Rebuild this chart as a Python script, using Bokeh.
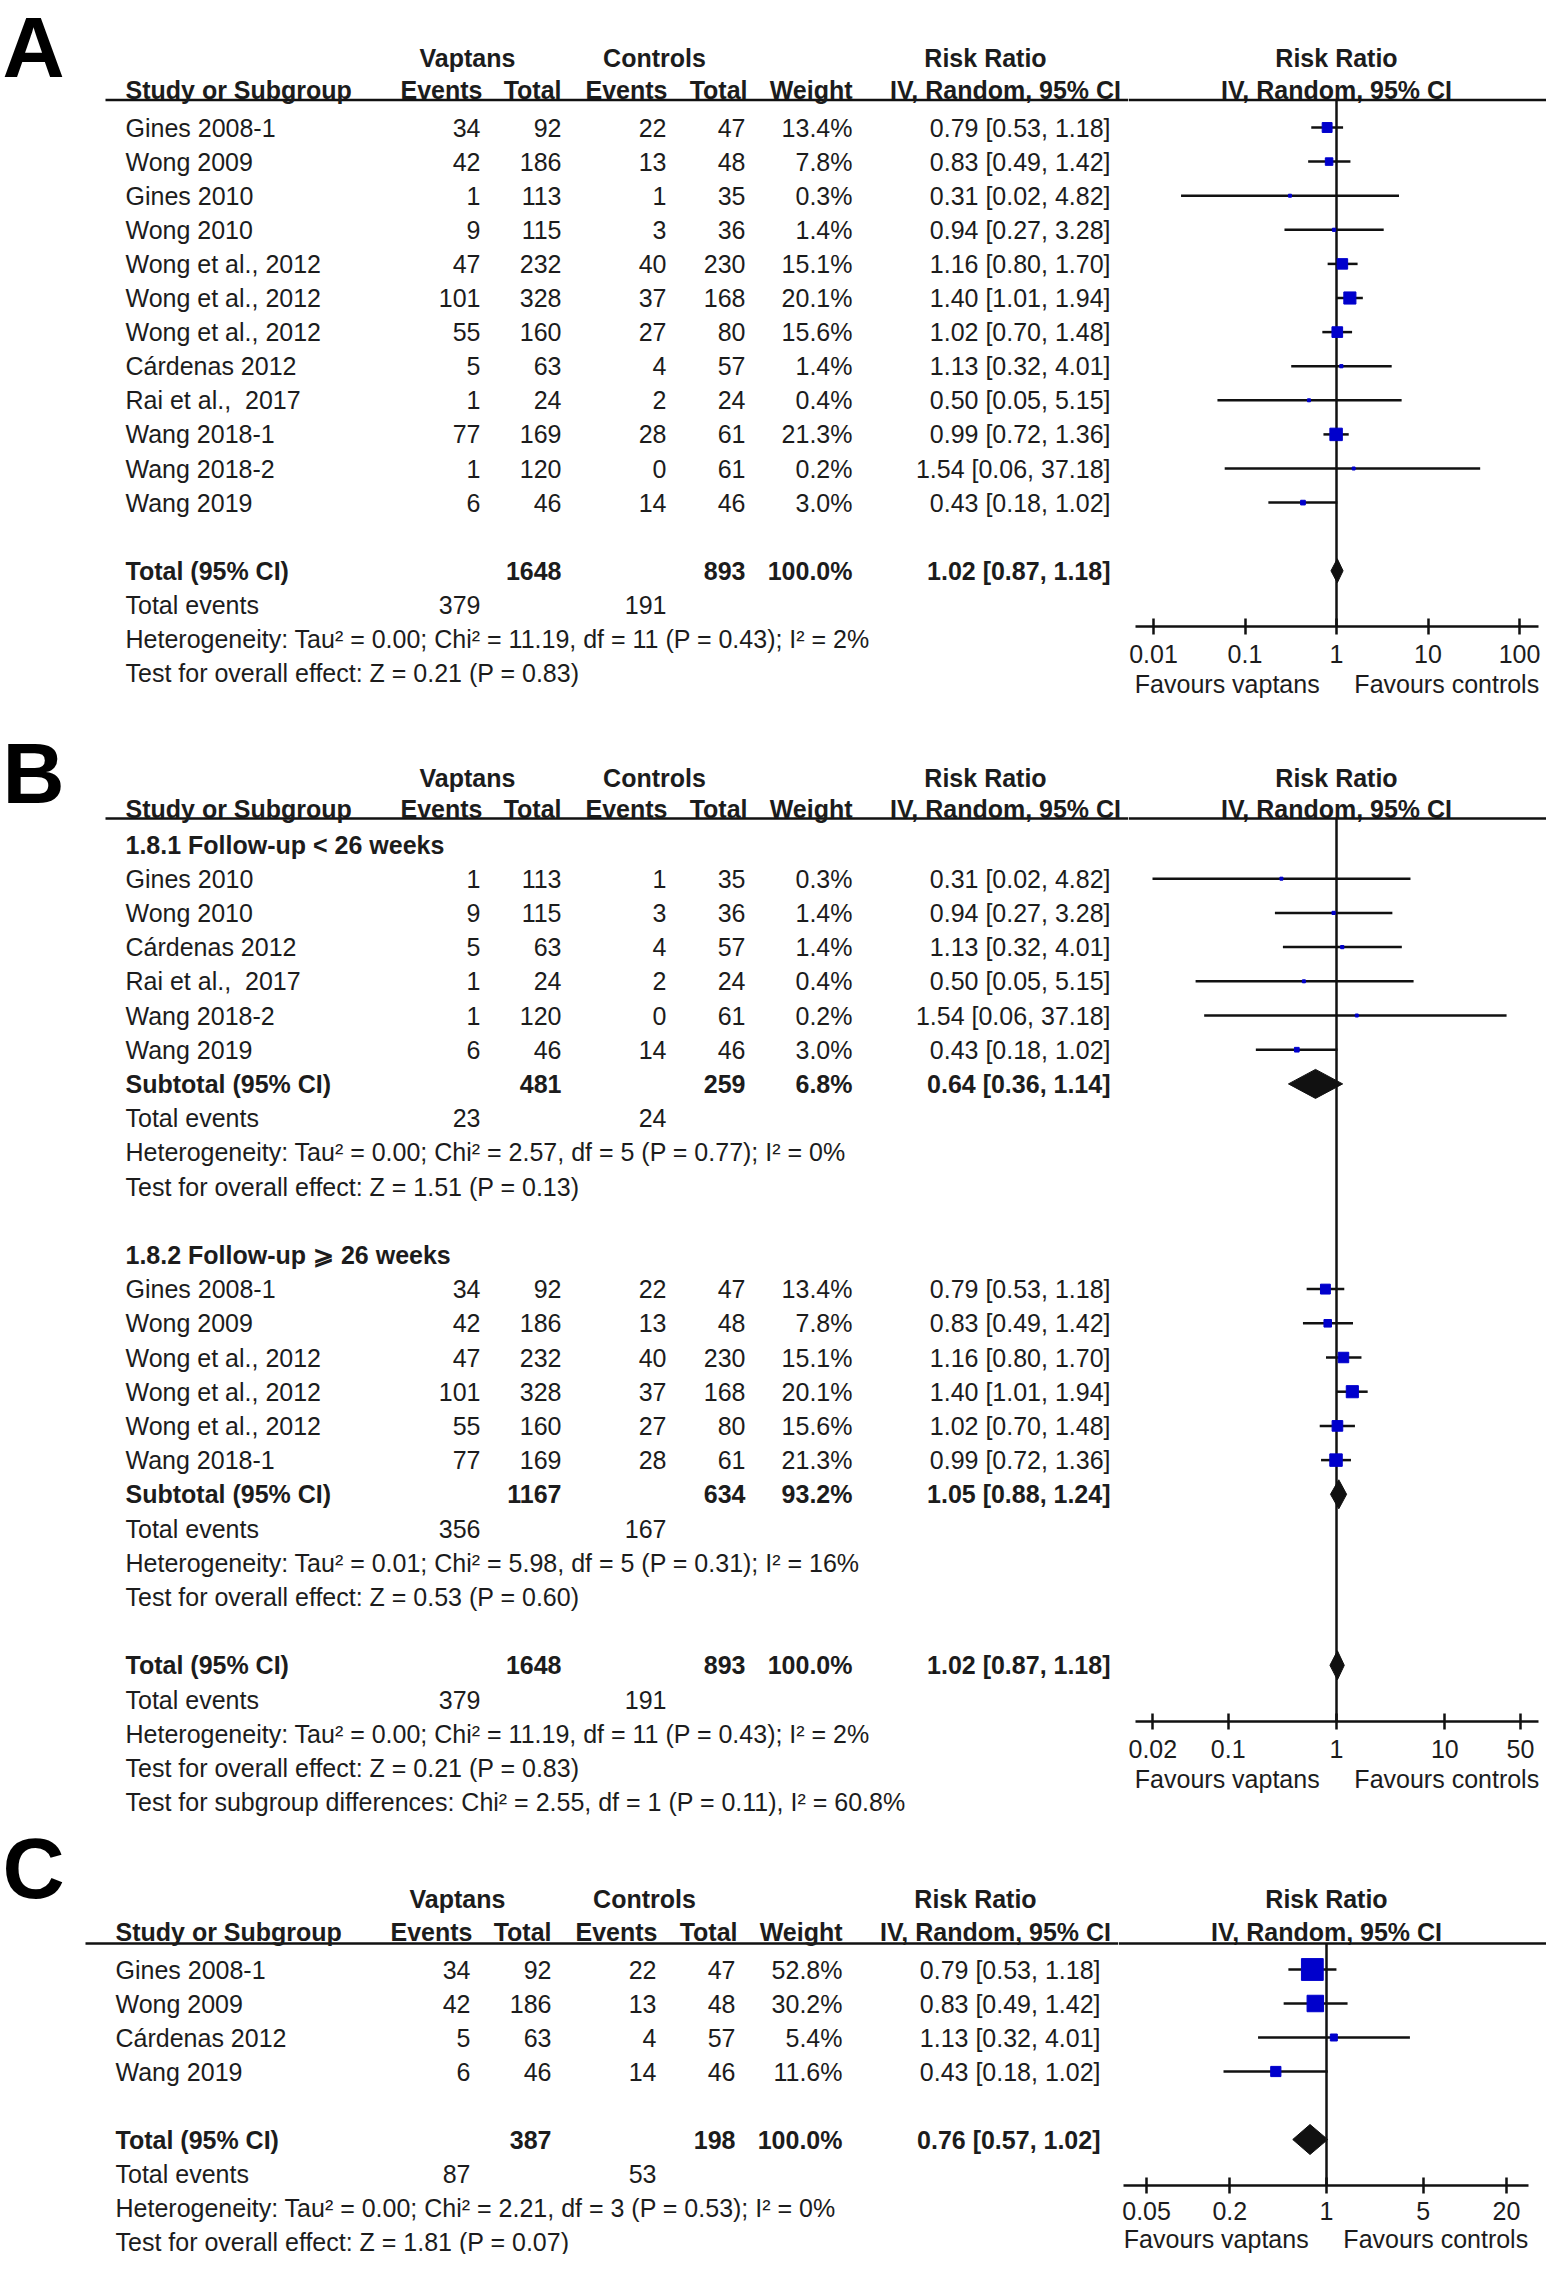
import math
from bokeh.plotting import figure
from bokeh.models import Range1d, ColumnDataSource, LogAxis, FixedTicker, CustomJSTickFormatter, Span
from bokeh.layouts import column, row
from bokeh.core.properties import value
from bokeh.embed import file_html
from bokeh.resources import INLINE

# ---------------- data ----------------
studies = ["Gines 2008-1", "Wong 2009", "Gines 2010", "Wong 2010", "Wong et al., 2012",
           "Wong et al., 2012", "Wong et al., 2012", "Cárdenas 2012", "Rai et al.,\u00a0 2017",
           "Wang 2018-1", "Wang 2018-2", "Wang 2019"]
vap_events = [34, 42, 1, 9, 47, 101, 55, 5, 1, 77, 1, 6]
vap_total = [92, 186, 113, 115, 232, 328, 160, 63, 24, 169, 120, 46]
ctl_events = [22, 13, 1, 3, 40, 37, 27, 4, 2, 28, 0, 14]
ctl_total = [47, 48, 35, 36, 230, 168, 80, 57, 24, 61, 61, 46]
weights = [13.4, 7.8, 0.3, 1.4, 15.1, 20.1, 15.6, 1.4, 0.4, 21.3, 0.2, 3.0]
rr = [0.79, 0.83, 0.31, 0.94, 1.16, 1.40, 1.02, 1.13, 0.50, 0.99, 1.54, 0.43]
rr_lo = [0.53, 0.49, 0.02, 0.27, 0.80, 1.01, 0.70, 0.32, 0.05, 0.72, 0.06, 0.18]
rr_hi = [1.18, 1.42, 4.82, 3.28, 1.70, 1.94, 1.48, 4.01, 5.15, 1.36, 37.18, 1.02]

total_n = [1648, 893]
total_events = [379, 191]
total_weight = 100.0
total_rr = [1.02, 0.87, 1.18]
total_het = "Heterogeneity: Tau² = 0.00; Chi² = 11.19, df = 11 (P = 0.43); I² = 2%"
total_test = "Test for overall effect: Z = 0.21 (P = 0.83)"

# panel B subgroups (indices into the study lists)
b_labels = ["1.8.1 Follow-up < 26 weeks", "1.8.2 Follow-up \u2a7e 26 weeks"]
b_members = [[2, 3, 7, 8, 10, 11], [0, 1, 4, 5, 6, 9]]
b_sub_n = [[481, 259], [1167, 634]]
b_sub_events = [[23, 24], [356, 167]]
b_sub_weight = [6.8, 93.2]
b_sub_rr = [[0.64, 0.36, 1.14], [1.05, 0.88, 1.24]]
b_sub_het = ["Heterogeneity: Tau² = 0.00; Chi² = 2.57, df = 5 (P = 0.77); I² = 0%",
             "Heterogeneity: Tau² = 0.01; Chi² = 5.98, df = 5 (P = 0.31); I² = 16%"]
b_sub_test = ["Test for overall effect: Z = 1.51 (P = 0.13)",
              "Test for overall effect: Z = 0.53 (P = 0.60)"]
b_diff = "Test for subgroup differences: Chi² = 2.55, df = 1 (P = 0.11), I² = 60.8%"

# panel C
c_studies = ["Gines 2008-1", "Wong 2009", "Cárdenas 2012", "Wang 2019"]
c_vap_events = [34, 42, 5, 6]
c_vap_total = [92, 186, 63, 46]
c_ctl_events = [22, 13, 4, 14]
c_ctl_total = [47, 48, 57, 46]
c_weights = [52.8, 30.2, 5.4, 11.6]
c_rr = [0.79, 0.83, 1.13, 0.43]
c_lo = [0.53, 0.49, 0.32, 0.18]
c_hi = [1.18, 1.42, 4.01, 1.02]
c_total_n = [387, 198]
c_total_events = [87, 53]
c_total_rr = [0.76, 0.57, 1.02]
c_het = "Heterogeneity: Tau² = 0.00; Chi² = 2.21, df = 3 (P = 0.53); I² = 0%"
c_test = "Test for overall effect: Z = 1.81 (P = 0.07)"

hdr1_labels = ["Vaptans", "Controls", "Risk Ratio"]
hdr2_labels = ["Study or Subgroup", "Events", "Total", "Events", "Total", "Weight", "IV, Random, 95% CI"]
forest_hdr = ["Risk Ratio", "IV, Random, 95% CI"]
favours = "Favours vaptans" + "\u00a0" * 5 + "Favours controls"
ticks_A = [0.01, 0.1, 1, 10, 100]
ticks_B = [0.02, 0.1, 1, 10, 50]
ticks_C = [0.05, 0.2, 1, 5, 20]

# ---------------- style / layout ----------------
FONT = "Liberation Sans"
FS = "25px"
TXT = "#1c1c1c"
INK = "#111111"
BLUE = "#0000cc"
PAGE_R = 1546

COLX = dict(name=125, ev1=480, tot1=561, ev2=666, tot2=745, wt=852, ci=1110)
H1X = [467, 654, 985]
H2X = [(125, "left"), (482, "right"), (561, "right"), (667, "right"), (747, "right"),
       (852, "right"), (1005, "center")]

PANELS = {
    "A": dict(top=0, bottom=725, y0=127, s=34.1, split=1128, X=0, c=1336, d=91.5,
              ax_px=(1135, 1538), axis=626, h1=57, h2=89.5, ul=99.5, letter=46, lx=2,
              dh=12, k=2.7, ticks=ticks_A, ul_x=105, lab_so=10, axl_so=4),
    "B": dict(top=725, bottom=1820, y0=844, s=34.2, split=1128, X=0, c=1336, d=108.3,
              ax_px=(1135, 1538), axis=1721, h1=777, h2=808, ul=818, letter=772, lx=2,
              dh=14.5, k=2.7, ticks=ticks_B, ul_x=105, lab_so=10, axl_so=4),
    "C": dict(top=1820, bottom=2254, y0=1969, s=34.0, split=1118, X=-10, c=1326, d=138.3,
              ax_px=(1123, 1528), axis=2185, h1=1898, h2=1931, ul=1943, letter=1867, lx=2,
              dh=15, k=3.0, ticks=ticks_C, ul_x=95, lab_so=8, axl_so=2),
}

COMMON = dict(toolbar_location=None, output_backend="svg", min_border=0,
              x_axis_location=None, y_axis_location=None, outline_line_color=None,
              background_fill_color="white", border_fill_color="white")


class TextBuf:
    def __init__(self):
        self.groups = {}

    def add(self, x, y, t, align="left", bold=False):
        g = self.groups.setdefault((align, bold), ([], [], []))
        g[0].append(x); g[1].append(y); g[2].append(str(t))

    def draw(self, p):
        for (align, bold), (xs, ys, ts) in self.groups.items():
            src = ColumnDataSource(dict(x=xs, y=ys, t=ts))
            p.text(x="x", y="y", text="t", source=src, text_align=align,
                   text_baseline="middle", text_font=value(FONT), text_font_size=FS,
                   text_font_style="bold" if bold else "normal", text_color=TXT)


class Panel:
    def __init__(self, name):
        cfg = PANELS[name]
        self.cfg = cfg
        self.X = cfg["X"]
        y0, s = cfg["y0"], cfg["s"]
        self.idx = lambda ref: (ref - y0) / s
        yr = Range1d(start=self.idx(cfg["bottom"]), end=self.idx(cfg["top"]))
        h = cfg["bottom"] - cfg["top"]
        split = cfg["split"]
        self.pt = figure(width=split, height=h, x_range=Range1d(0, split), y_range=yr, **COMMON)
        c, d = cfg["c"], cfg["d"]
        self.pf = figure(width=PAGE_R - split, height=h, x_axis_type="log",
                         x_range=Range1d(10 ** ((split - c) / d), 10 ** ((PAGE_R - c) / d)),
                         y_range=yr, **COMMON)
        for p in (self.pt, self.pf):
            p.grid.visible = False
        self.tb = TextBuf()
        self.fb = TextBuf()
        self.ci_x0, self.ci_x1, self.ci_y = [], [], []
        self.sq_x, self.sq_y, self.sq_s = [], [], []
        self.dxs, self.dys = [], []
        # panel letter
        self.pt.text(x=[cfg["lx"]], y=[self.idx(cfg["letter"])], text=[name],
                     text_font=value(FONT), text_font_size="86px", text_font_style="bold",
                     text_baseline="middle", text_align="left", text_color="#000000")
        # headers
        yh1, yh2, yul = self.idx(cfg["h1"]), self.idx(cfg["h2"]), self.idx(cfg["ul"])
        for lab, x in zip(hdr1_labels, H1X):
            self.tb.add(x + self.X, yh1, lab, "center", True)
        for lab, (x, al) in zip(hdr2_labels, H2X):
            self.tb.add(x + self.X, yh2, lab, al, True)
        self.fb.add(1, yh1, forest_hdr[0], "center", True)
        self.fb.add(1, yh2, forest_hdr[1], "center", True)
        self.pt.segment(x0=[cfg["ul_x"] + self.X], x1=[split], y0=[yul], y1=[yul],
                        line_color=INK, line_width=2.5)
        self.pf.add_layout(Span(location=yul, dimension="width", line_color=INK, line_width=2.5))
        self.yul = yul

    def col(self, key):
        return COLX[key] + self.X

    def study(self, i, name, ve, vt, ce, ct, w, r, lo, hi):
        tb = self.tb
        tb.add(self.col("name"), i, name)
        tb.add(self.col("ev1"), i, ve, "right")
        tb.add(self.col("tot1"), i, vt, "right")
        tb.add(self.col("ev2"), i, ce, "right")
        tb.add(self.col("tot2"), i, ct, "right")
        tb.add(self.col("wt"), i, f"{w:.1f}%", "right")
        tb.add(self.col("ci"), i, f"{r:.2f} [{lo:.2f}, {hi:.2f}]", "right")
        self.ci_x0.append(lo); self.ci_x1.append(hi); self.ci_y.append(i)
        self.sq_x.append(r); self.sq_y.append(i)
        self.sq_s.append(max(3.0, self.cfg["k"] * math.sqrt(w)))

    def summary(self, i, label, n, w, rrs):
        tb = self.tb
        tb.add(self.col("name"), i, label, "left", True)
        tb.add(self.col("tot1"), i, n[0], "right", True)
        tb.add(self.col("tot2"), i, n[1], "right", True)
        tb.add(self.col("wt"), i, f"{w:.1f}%", "right", True)
        tb.add(self.col("ci"), i, f"{rrs[0]:.2f} [{rrs[1]:.2f}, {rrs[2]:.2f}]", "right", True)
        h = self.cfg["dh"] / self.cfg["s"]
        self.dxs.append([rrs[1], rrs[0], rrs[2], rrs[0]])
        self.dys.append([i, i - h, i, i + h])

    def events(self, i, ev):
        self.tb.add(self.col("name"), i, "Total events")
        self.tb.add(self.col("ev1"), i, ev[0], "right")
        self.tb.add(self.col("ev2"), i, ev[1], "right")

    def line(self, i, text, bold=False):
        self.tb.add(self.col("name"), i, text, "left", bold)

    def finish(self):
        cfg = self.cfg
        pf = self.pf
        ax_i = self.idx(cfg["axis"])
        pf.segment(x0=[1], x1=[1], y0=[self.yul], y1=[ax_i], line_color=INK, line_width=2.5)
        pf.segment(x0=self.ci_x0, x1=self.ci_x1, y0=self.ci_y, y1=self.ci_y,
                   line_color=INK, line_width=2.5)
        pf.scatter(x=self.sq_x, y=self.sq_y, size=self.sq_s, marker="square",
                   fill_color=BLUE, line_color=BLUE, line_width=1)
        pf.patches(xs=self.dxs, ys=self.dys, fill_color=INK, line_color=INK, line_width=1)
        c, d = cfg["c"], cfg["d"]
        b0, b1 = cfg["ax_px"]
        ax = LogAxis(fixed_location=ax_i, ticker=FixedTicker(ticks=cfg["ticks"]),
                     formatter=CustomJSTickFormatter(code="return tick.toString();"),
                     bounds=(10 ** ((b0 - c) / d), 10 ** ((b1 - c) / d)))
        ax.axis_label = favours
        ax.axis_label_text_font = FONT
        ax.axis_label_text_font_size = FS
        ax.axis_label_text_font_style = "normal"
        ax.axis_label_text_color = TXT
        ax.axis_label_standoff = cfg["axl_so"]
        ax.major_label_text_font = FONT
        ax.major_label_text_font_size = FS
        ax.major_label_text_color = TXT
        ax.major_label_standoff = cfg["lab_so"]
        ax.major_tick_in = 8
        ax.major_tick_out = 8
        ax.minor_tick_line_color = None
        ax.axis_line_color = INK
        ax.axis_line_width = 2.5
        ax.major_tick_line_color = INK
        ax.major_tick_line_width = 2.5
        pf.add_layout(ax, "below")
        self.tb.draw(self.pt)
        self.fb.draw(pf)
        return row(self.pt, self.pf)


# ---------------- panel A ----------------
A = Panel("A")
for i in range(len(studies)):
    A.study(i, studies[i], vap_events[i], vap_total[i], ctl_events[i], ctl_total[i],
            weights[i], rr[i], rr_lo[i], rr_hi[i])
A.summary(13, "Total (95% CI)", total_n, total_weight, total_rr)
A.events(14, total_events)
A.line(15, total_het)
A.line(16, total_test)
rowA = A.finish()

# ---------------- panel B ----------------
B = Panel("B")
start = 0
for g in range(2):
    B.line(start, b_labels[g], bold=True)
    for j, i in enumerate(b_members[g]):
        B.study(start + 1 + j, studies[i], vap_events[i], vap_total[i], ctl_events[i],
                ctl_total[i], weights[i], rr[i], rr_lo[i], rr_hi[i])
    n = len(b_members[g])
    B.summary(start + n + 1, "Subtotal (95% CI)", b_sub_n[g], b_sub_weight[g], b_sub_rr[g])
    B.events(start + n + 2, b_sub_events[g])
    B.line(start + n + 3, b_sub_het[g])
    B.line(start + n + 4, b_sub_test[g])
    start = start + n + 6
B.summary(24, "Total (95% CI)", total_n, total_weight, total_rr)
B.events(25, total_events)
B.line(26, total_het)
B.line(27, total_test)
B.line(28, b_diff)
rowB = B.finish()

# ---------------- panel C ----------------
C = Panel("C")
for i in range(len(c_studies)):
    C.study(i, c_studies[i], c_vap_events[i], c_vap_total[i], c_ctl_events[i],
            c_ctl_total[i], c_weights[i], c_rr[i], c_lo[i], c_hi[i])
C.summary(5, "Total (95% CI)", c_total_n, total_weight, c_total_rr)
C.events(6, c_total_events)
C.line(7, c_het)
C.line(8, c_test)
rowC = C.finish()

layout = column(rowA, rowB, rowC)
open("out.html", "w").write(file_html(layout, INLINE))
